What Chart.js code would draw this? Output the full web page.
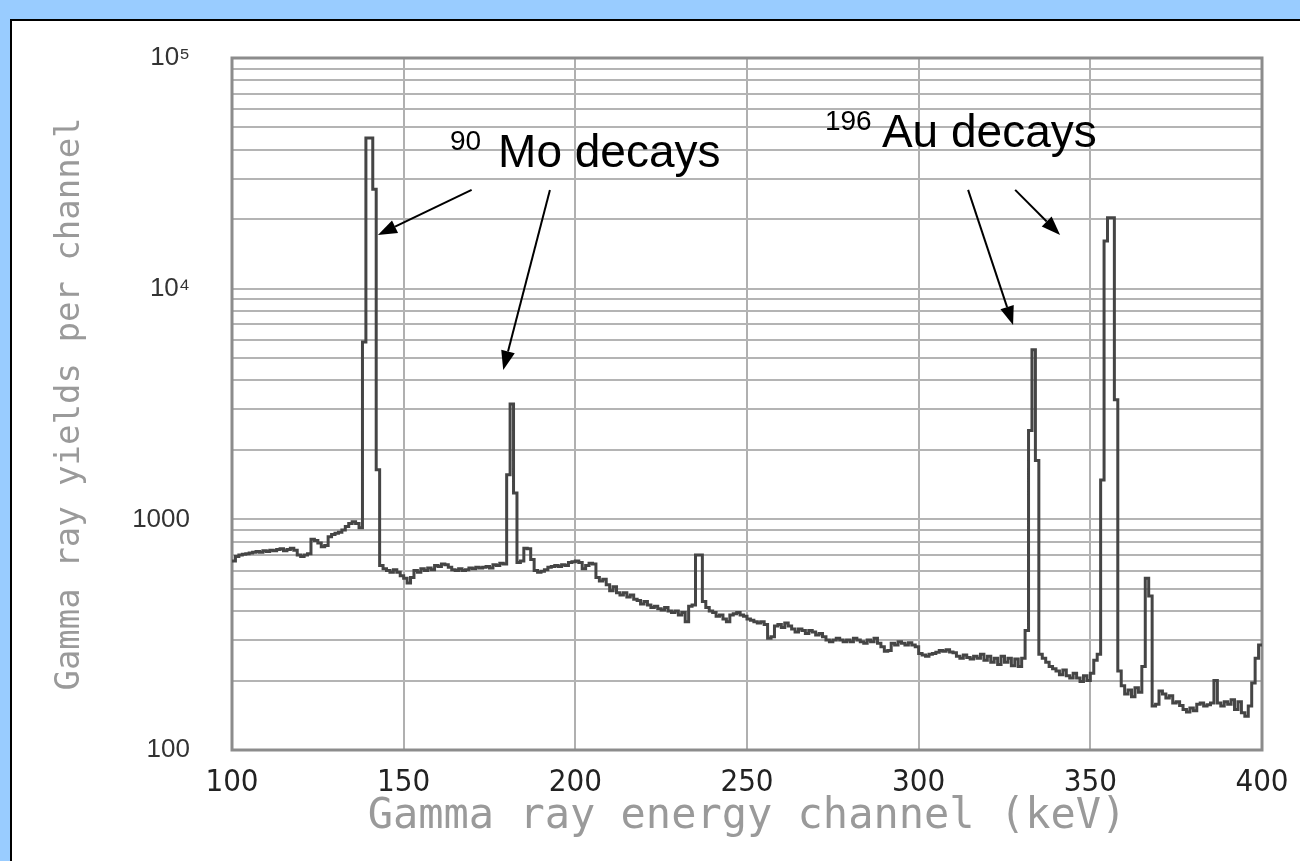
<!DOCTYPE html>
<html><head><meta charset="utf-8">
<script src="https://cdn.jsdelivr.net/npm/chart.js@4.4.1/dist/chart.umd.min.js"></script>
<style>
html,body{margin:0;padding:0;width:1300px;height:861px;overflow:hidden;background:#99ccff;}
#panel{position:absolute;left:10px;top:19px;width:1300px;height:860px;background:#fff;border-left:2px solid #000;border-top:2px solid #000;}
#c{position:absolute;left:0;top:0;}
</style></head><body>
<div id="panel"></div>
<canvas id="c" width="1300" height="861"></canvas>
<script>
// ---- data ----
const binStart = 100;   // keV, left edge of first channel
const binWidth = 1;     // keV per channel
const counts = [
 660,690,700,705,710,715,720,725,720,730, // 100-109
 725,735,730,740,745,730,740,750,735,700, // 110-119
 690,700,710,820,810,790,760,770,840,860, // 120-129
 870,880,900,930,960,975,960,920,5870,45000, // 130-139
 45000,27000,1640,630,610,600,590,605,590,570, // 140-149
 555,530,560,600,590,610,600,615,605,630, // 150-159
 625,640,635,620,605,600,610,600,605,615, // 160-169
 610,620,615,620,625,615,635,630,645,640, // 170-179
 1560,3160,1300,650,660,750,745,670,600,590, // 180-189
 595,605,620,625,630,625,635,630,650,655, // 190-199
 660,650,610,630,645,640,560,540,550,520, // 200-209
 490,510,480,470,480,460,470,450,445,430, // 210-219
 440,425,415,420,410,405,415,400,395,400, // 220-229
 385,395,360,420,425,700,700,440,415,400, // 230-239
 395,380,385,370,360,385,390,395,385,380, // 240-249
 370,365,360,355,360,350,305,310,345,350, // 250-259
 340,355,345,335,325,335,330,320,330,325, // 260-269
 315,320,310,300,295,300,305,300,295,300, // 270-279
 295,305,300,295,290,300,295,305,290,280, // 280-289
 268,270,290,285,295,290,285,292,285,280, // 290-299
 262,258,255,260,262,265,270,268,272,266, // 300-309
 264,255,250,258,252,248,255,250,260,245, // 310-319
 255,240,250,235,255,240,250,232,248,230, // 320-329
 250,330,2430,5430,1800,260,250,240,230,225, // 330-339
 220,212,222,210,205,215,205,198,210,200, // 340-349
 215,245,260,1480,16100,20300,20300,3300,220,190, // 350-359
 175,182,170,186,178,230,555,465,155,158, // 360-369
 180,175,168,172,160,162,156,150,146,152, // 370-379
 148,158,160,155,157,160,200,160,155,162, // 380-389
 158,165,150,162,145,140,155,195,250,285  // 390-399
];
const xTickValues = [100,150,200,250,300,350,400];
const yGridValues = [100,200,300,400,500,600,700,800,900,
  1000,2000,3000,4000,5000,6000,7000,8000,9000,
  10000,20000,30000,40000,50000,60000,70000,80000,90000,100000];
const yTickLabels = {100:'100',1000:'1000',10000:'10\u2074',100000:'10\u2075'};
const xTitle = 'Gamma ray energy channel (keV)';
const yTitle = 'Gamma ray yields per channel';
// annotations in data units (keV, counts)
const annoArrows = [
  {from:[169.8,26800], to:[142.5,17100]},
  {from:[192.6,26800], to:[179.0,4440]},
  {from:[314.4,26800], to:[327.5,6950]},
  {from:[328.1,26800], to:[341.2,17100]}
];
const annoTexts = [
  {text:'90', kind:'iso', at:[163.5,39900]},
  {text:'Mo decays', kind:'name', at:[177.5,33650]},
  {text:'196', kind:'iso', at:[272.7,48700]},
  {text:'Au decays', kind:'name', at:[289.3,41100]}
];

// ---- build ----
const points = counts.map((v,i)=>({x: binStart + i*binWidth, y: v}));
points.push({x: binStart + counts.length*binWidth, y: counts[counts.length-1]});

const textFonts = {iso:'28px "Liberation Sans", Arial, sans-serif', name:'46px "Liberation Sans", Arial, sans-serif'};

const framePlugin = {
  id:'frame',
  beforeDatasetsDraw(chart){
    const {ctx, chartArea:a} = chart;
    ctx.save();
    ctx.strokeStyle = '#8c8c8c';
    ctx.lineWidth = 3;
    ctx.strokeRect(a.left, a.top, a.right-a.left, a.bottom-a.top);
    ctx.restore();
  },
  afterDraw(chart){
    const {ctx} = chart;
    const xs = chart.scales.x, ys = chart.scales.y;
    ctx.save();
    ctx.fillStyle = '#000';
    ctx.strokeStyle = '#000';
    ctx.lineWidth = 2;
    annoArrows.forEach(a=>{
      const x1 = xs.getPixelForValue(a.from[0]), y1 = ys.getPixelForValue(a.from[1]);
      const x2 = xs.getPixelForValue(a.to[0]), y2 = ys.getPixelForValue(a.to[1]);
      const ang = Math.atan2(y2-y1, x2-x1);
      const hl = 19, hw = 7;
      const bx = x2 - hl*Math.cos(ang), by = y2 - hl*Math.sin(ang);
      ctx.beginPath(); ctx.moveTo(x1,y1); ctx.lineTo(bx,by); ctx.stroke();
      ctx.beginPath();
      ctx.moveTo(x2,y2);
      ctx.lineTo(bx + hw*Math.sin(ang), by - hw*Math.cos(ang));
      ctx.lineTo(bx - hw*Math.sin(ang), by + hw*Math.cos(ang));
      ctx.closePath(); ctx.fill();
    });
    ctx.textAlign = 'left';
    ctx.textBaseline = 'alphabetic';
    annoTexts.forEach(t=>{
      ctx.font = textFonts[t.kind];
      ctx.fillText(t.text, xs.getPixelForValue(t.at[0]), ys.getPixelForValue(t.at[1]));
    });
    ctx.restore();
  }
};

new Chart(document.getElementById('c'), {
  type:'line',
  data:{datasets:[{
    data: points,
    stepped: true,
    borderColor:'#454545',
    borderWidth:3,
    pointRadius:0,
    fill:false
  }]},
  options:{
    responsive:false,
    animation:false,
    parsing:false,
    normalized:true,
    layout:{padding:{left:0, top:58, right:38, bottom:0}},
    plugins:{legend:{display:false}, tooltip:{enabled:false}},
    scales:{
      x:{
        type:'linear', min:100, max:400,
        afterBuildTicks(s){ s.ticks = xTickValues.map(v=>({value:v})); },
        afterFit(s){ s.height = 111; s.paddingRight = 0; s.paddingLeft = 0; },
        grid:{color:'#b0b0b0', lineWidth:2, drawTicks:false},
        border:{display:false},
        ticks:{autoSkip:false, maxRotation:0, padding:14, color:'#222',
          font:{family:'"Liberation Sans Narrow", "DejaVu Sans Condensed", sans-serif', size:31}},
        title:{display:true, text:xTitle, color:'#9a9a9a', padding:{top:0,bottom:19},
          font:{family:'"DejaVu Sans Mono", monospace', size:42}}
      },
      y:{
        type:'logarithmic', min:100, max:100000,
        afterBuildTicks(s){ s.ticks = yGridValues.map(v=>({value:v, major: v in yTickLabels})); },
        afterFit(s){ s.width = 232; },
        grid:{color:'#b4b4b4', lineWidth:2, drawTicks:false},
        border:{display:false},
        ticks:{autoSkip:false, padding:42, color:'#333',
          font:{family:'"Liberation Sans", Arial, sans-serif', size:26},
          callback:(v)=> yTickLabels[v] || ''},
        title:{display:true, text:yTitle, color:'#9a9a9a', padding:{top:50,bottom:0},
          font:{family:'"DejaVu Sans Mono", monospace', size:34}}
      }
    }
  },
  plugins:[framePlugin]
});
</script>
</body></html>
